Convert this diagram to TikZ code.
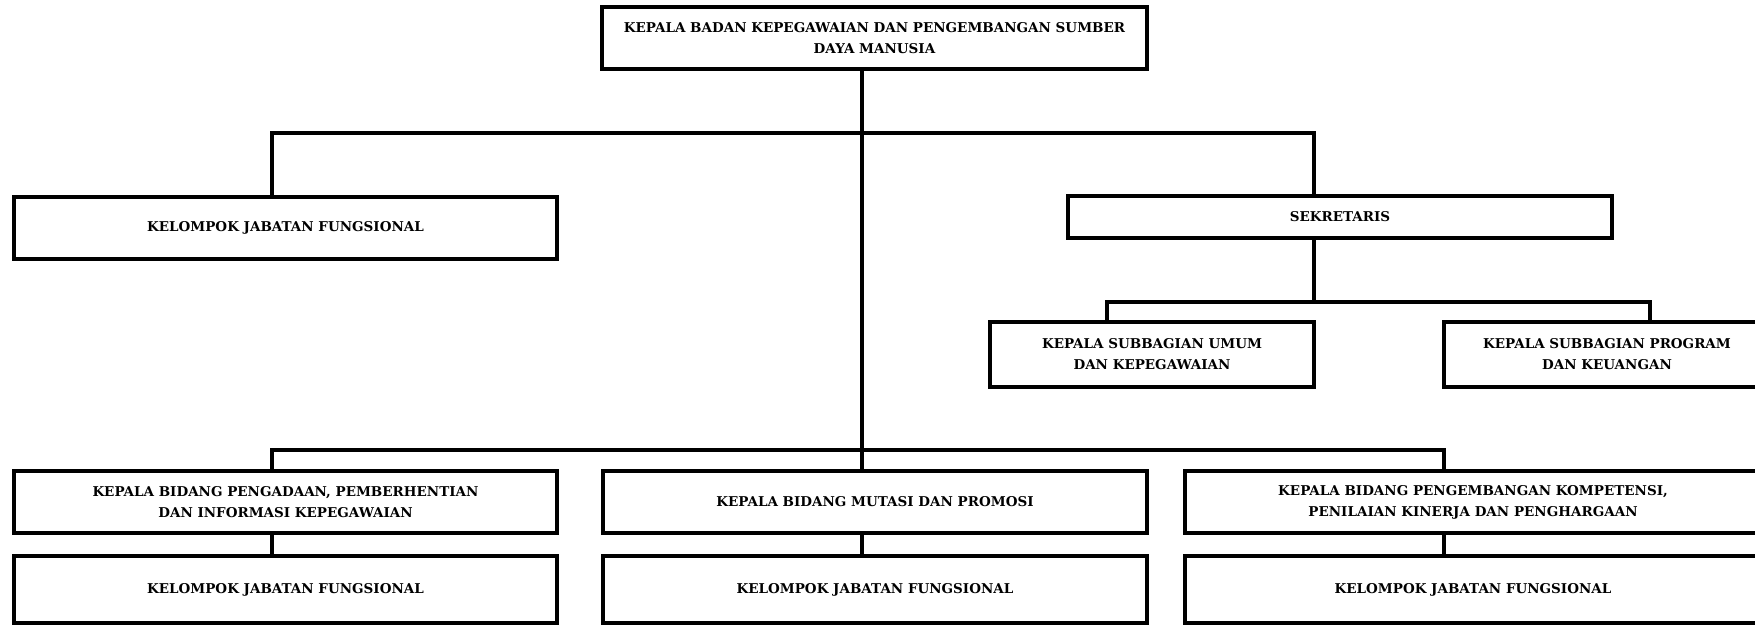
\documentclass[tikz,border=0pt]{standalone}
\usepackage{fontspec}
\setmainfont{DejaVu Serif}
\begin{document}
\begin{tikzpicture}[x=0.5pt,y=-0.5pt,
  box/.style={draw, line width=1.7pt, align=center, fill=white,
    font=\bfseries\fontsize{6.75}{10.5}\selectfont, inner sep=0pt},
  conn/.style={line width=1.7pt}]
\useasboundingbox (0,0) rectangle (1755,625);
\clip (0,0) rectangle (1755,625);
% nodes
\node[box, minimum width=272.5pt, minimum height=31pt] (top) at (874.5,38)
  {KEPALA BADAN KEPEGAWAIAN DAN PENGEMBANGAN SUMBER\\DAYA MANUSIA};
\node[box, minimum width=271.5pt, minimum height=31pt] (kjf0) at (285.5,228)
  {KELOMPOK JABATAN FUNGSIONAL};
\node[box, minimum width=272pt, minimum height=21pt] (sek) at (1340,217)
  {SEKRETARIS};
\node[box, minimum width=162pt, minimum height=32.5pt] (sub1) at (1152,354.5)
  {KEPALA SUBBAGIAN UMUM\\DAN KEPEGAWAIAN};
\node[box, minimum width=163pt, minimum height=32.5pt] (sub2) at (1607,354.5)
  {KEPALA SUBBAGIAN PROGRAM\\DAN KEUANGAN};
\node[box, minimum width=271.5pt, minimum height=31pt] (b1) at (285.5,502)
  {KEPALA BIDANG PENGADAAN, PEMBERHENTIAN\\DAN INFORMASI KEPEGAWAIAN};
\node[box, minimum width=272pt, minimum height=31pt] (b2) at (875,502)
  {KEPALA BIDANG MUTASI DAN PROMOSI};
\node[box, minimum width=288pt, minimum height=31pt] (b3) at (1473,502)
  {KEPALA BIDANG PENGEMBANGAN KOMPETENSI,\\PENILAIAN KINERJA DAN PENGHARGAAN};
\node[box, minimum width=271.5pt, minimum height=33.5pt] (k1) at (285.5,589.5)
  {KELOMPOK JABATAN FUNGSIONAL};
\node[box, minimum width=272pt, minimum height=33.5pt] (k2) at (875,589.5)
  {KELOMPOK JABATAN FUNGSIONAL};
\node[box, minimum width=288pt, minimum height=33.5pt] (k3) at (1473,589.5)
  {KELOMPOK JABATAN FUNGSIONAL};
% junctions
\coordinate (jL) at (272,133);
\coordinate (jM) at (862,133);
\coordinate (jR) at (1314,133);
\coordinate (jS) at (1314,302);
\coordinate (jS1) at (1107,302);
\coordinate (jS2) at (1650,302);
\coordinate (jB1) at (272,450);
\coordinate (jB2) at (862,450);
\coordinate (jB3) at (1444,450);
% connectors
\draw[conn] (top.south -| jB2) -- (jB2);
\draw[conn] (kjf0.north -| jL) -- (jL) -- (jR) -- (sek.north -| jR);
\draw[conn] (sek.south -| jS) -- (jS);
\draw[conn] (sub1.north -| jS1) -- (jS1) -- (jS2) -- (sub2.north -| jS2);
\draw[conn] (b1.north -| jB1) -- (jB1) -- (jB3) -- (b3.north -| jB3);
\draw[conn] (jB2) -- (b2.north -| jB2);
\draw[conn] (b1.south -| jB1) -- (k1.north -| jB1);
\draw[conn] (b2.south -| jB2) -- (k2.north -| jB2);
\draw[conn] (b3.south -| jB3) -- (k3.north -| jB3);
\end{tikzpicture}
\end{document}
